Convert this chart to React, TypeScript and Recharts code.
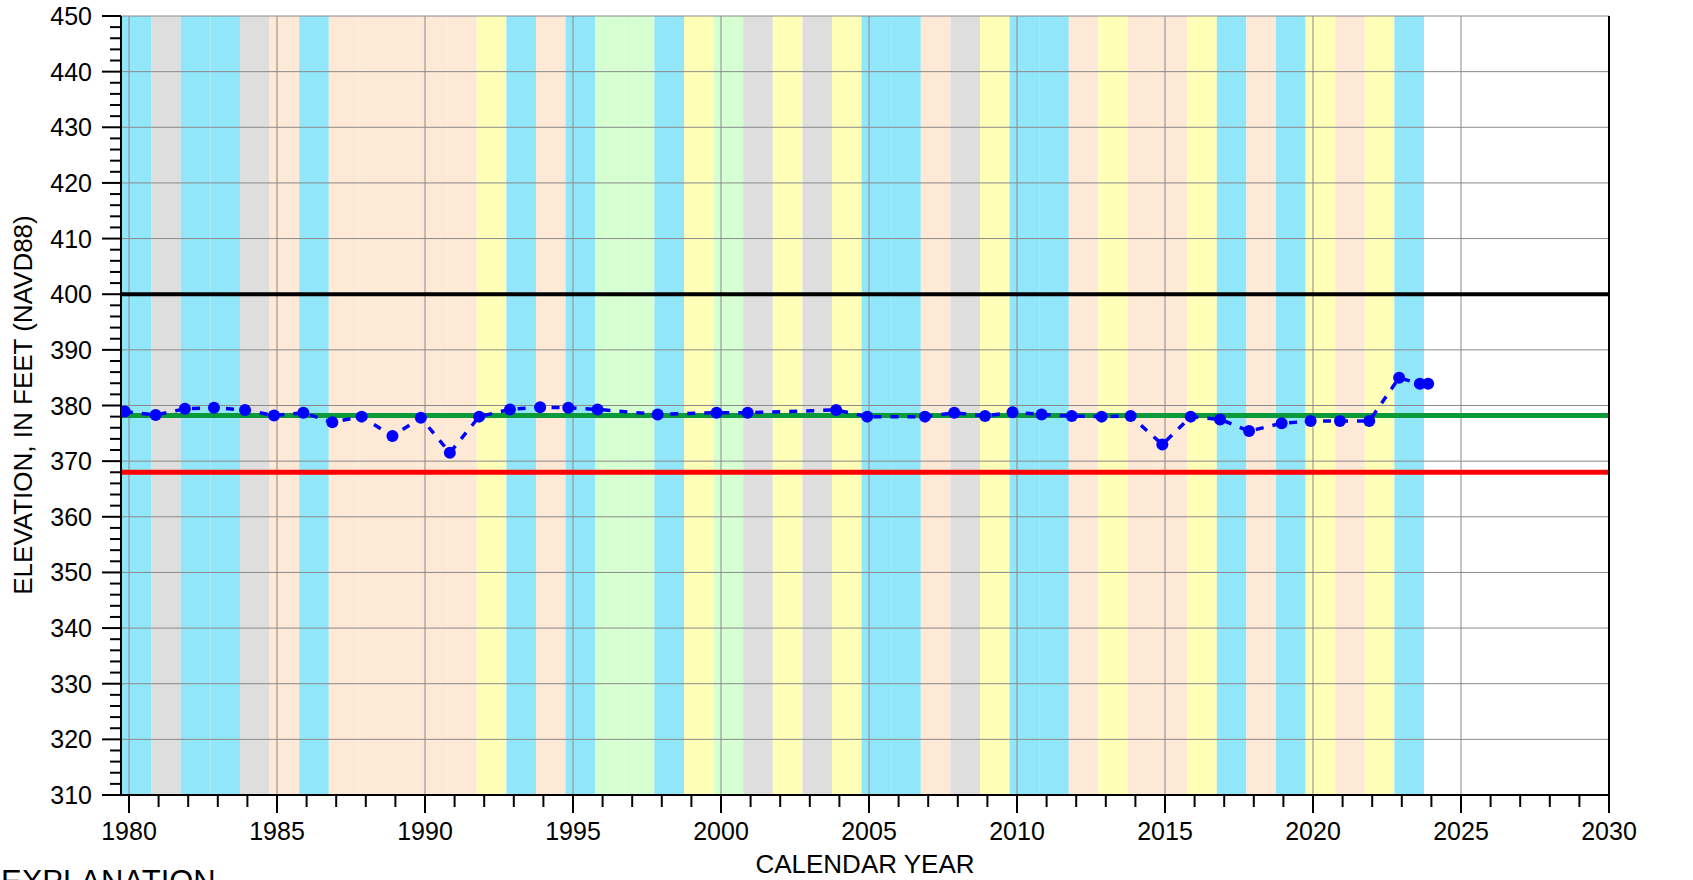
import { ComposedChart, Line, XAxis, YAxis, ReferenceArea, ReferenceLine } from "recharts";

// water years and their type (colour band), WY runs Oct 1 (prev year) to Sep 30
const WATER_YEARS = [
  1980, 1981, 1982, 1983, 1984, 1985, 1986, 1987, 1988, 1989, 1990, 1991,
  1992, 1993, 1994, 1995, 1996, 1997, 1998, 1999, 2000, 2001, 2002, 2003,
  2004, 2005, 2006, 2007, 2008, 2009, 2010, 2011, 2012, 2013, 2014, 2015,
  2016, 2017, 2018, 2019, 2020, 2021, 2022, 2023,
];
const YEAR_TYPES = [
  "W", "C", "W", "W", "C", "D", "W", "D", "D", "D", "D", "D",
  "BN", "W", "D", "W", "AN", "AN", "W", "BN", "AN", "C", "BN", "C",
  "BN", "W", "W", "D", "C", "BN", "W", "W", "D", "BN", "D", "D",
  "BN", "W", "D", "W", "BN", "D", "BN", "W",
];

// measured groundwater elevations
const MEASURED_DATES = [
  1979.86, 1980.9, 1981.89, 1982.87, 1983.92, 1984.9, 1985.89, 1986.87,
  1987.86, 1988.9, 1989.86, 1990.84, 1991.83, 1992.87, 1993.89, 1994.84,
  1995.83, 1997.86, 1999.85, 2000.9, 2003.89, 2004.94, 2006.89, 2007.88,
  2008.92, 2009.85, 2010.83, 2011.85, 2012.86, 2013.84, 2014.91, 2015.87,
  2016.86, 2017.84, 2018.94, 2019.92, 2020.91, 2021.9, 2022.91, 2023.61,
  2023.89,
];
const ELEVATIONS = [
  378.9, 378.3, 379.4, 379.6, 379.2, 378.2, 378.7, 377.0,
  378.0, 374.5, 377.8, 371.5, 378.0, 379.3, 379.7, 379.6,
  379.3, 378.4, 378.7, 378.7, 379.2, 378.0, 378.0, 378.7,
  378.1, 378.8, 378.4, 378.1, 378.0, 378.1, 373.0, 378.0,
  377.5, 375.4, 376.8, 377.2, 377.2, 377.2, 385.0, 383.9,
  383.9,
];

const THRESHOLDS = [
  { value: 400, color: "#000000", width: 4 },
  { value: 378.2, color: "#0a9a3a", width: 5 },
  { value: 368, color: "#ff0000", width: 5 },
];

const X_GRID = [1980, 1985, 1990, 1995, 2000, 2005, 2010, 2015, 2020, 2025];
const Y_GRID = [320, 330, 340, 350, 360, 370, 380, 390, 400, 410, 420, 430, 440, 450];

const TYPE_COLORS: Record<string, string> = {
  W: "#92e6f9",
  AN: "#d6ffd2",
  BN: "#ffffb8",
  D: "#fee8d6",
  C: "#dedede",
};

const range = (a: number, b: number, s: number) => {
  const out: number[] = [];
  for (let v = a; v <= b; v += s) out.push(v);
  return out;
};
const X_TICKS = range(1980, 2030, 1);
const Y_TICKS = range(310, 450, 2);

const FONT = "'Liberation Sans', Arial, sans-serif";

const data = MEASURED_DATES.map((d, i) => ({ date: d, elev: ELEVATIONS[i] }));

function LeftTick(props: any) {
  const { x, y, payload } = props;
  const v = payload.value;
  const major = v % 10 === 0;
  return (
    <g>
      <line x1={x - (major ? 19 : 11)} x2={x} y1={y} y2={y} stroke="#000" strokeWidth={2} />
      {major && (
        <text x={x - 29} y={y} dy="0.36em" textAnchor="end" fontSize={25} fontFamily={FONT} fill="#000">
          {v}
        </text>
      )}
    </g>
  );
}

function RightTick(props: any) {
  const { x, y, payload } = props;
  const v = payload.value;
  const major = v % 10 === 0;
  return (
    <g>
      <line x1={x} x2={x + (major ? 18 : 12)} y1={y} y2={y} stroke="#000" strokeWidth={2} />
      {major && (
        <text x={x + 29} y={y} dy="0.36em" textAnchor="start" fontSize={25} fontFamily={FONT} fill="#000">
          {v}
        </text>
      )}
    </g>
  );
}

function BottomTick(props: any) {
  const { x, y, payload } = props;
  const v = payload.value;
  const major = v % 5 === 0;
  return (
    <g>
      <line x1={x} x2={x} y1={y} y2={y + (major ? 18 : 12)} stroke="#000" strokeWidth={2} />
      {major && (
        <text x={x} y={y + 45} textAnchor="middle" fontSize={25} fontFamily={FONT} fill="#000">
          {v}
        </text>
      )}
    </g>
  );
}

export default function App() {
  return (
    <div style={{ position: "absolute", left: 0, top: 0, width: 1693, height: 880, overflow: "hidden", background: "#fff" }}>
      <ComposedChart
        width={1693}
        height={880}
        data={data}
        margin={{ top: 16, right: 0, bottom: 0, left: 0 }}
      >
        <XAxis
          dataKey="date"
          type="number"
          domain={[1979.73, 2030]}
          allowDataOverflow
          ticks={X_TICKS}
          interval={0}
          height={85}
          tickSize={0}
          tickMargin={0}
          tickLine={false}
          axisLine={{ stroke: "#000", strokeWidth: 2 }}
          tick={BottomTick}
        />
        <YAxis
          yAxisId="l"
          type="number"
          domain={[310, 450]}
          ticks={Y_TICKS}
          interval={0}
          width={121}
          tickSize={0}
          tickMargin={0}
          tickLine={false}
          axisLine={{ stroke: "#000", strokeWidth: 2 }}
          tick={LeftTick}
        />
        <YAxis
          yAxisId="r"
          orientation="right"
          type="number"
          domain={[310, 450]}
          ticks={Y_TICKS}
          interval={0}
          width={84}
          tickSize={0}
          tickMargin={0}
          tickLine={false}
          axisLine={{ stroke: "#000", strokeWidth: 2 }}
          tick={RightTick}
        />
        {WATER_YEARS.map((wy, i) => (
          <ReferenceArea
            key={`wy${wy}`}
            yAxisId="l"
            x1={wy - 0.25}
            x2={wy + 0.75}
            fill={TYPE_COLORS[YEAR_TYPES[i]]}
            fillOpacity={1}
            stroke="none"
            ifOverflow="hidden"
          />
        ))}
        {X_GRID.map((g) => (
          <ReferenceLine key={`gx${g}`} yAxisId="l" x={g} stroke="#8a8a8a" strokeWidth={1} />
        ))}
        {Y_GRID.map((g) => (
          <ReferenceLine key={`gy${g}`} yAxisId="l" y={g} stroke="#8a8a8a" strokeWidth={1} />
        ))}
        {THRESHOLDS.map((t) => (
          <ReferenceLine key={`t${t.value}`} yAxisId="l" y={t.value} stroke={t.color} strokeWidth={t.width} />
        ))}
        <Line
          yAxisId="l"
          dataKey="elev"
          type="linear"
          stroke="#0000ff"
          strokeWidth={3.5}
          strokeDasharray="8 9"
          dot={{ r: 6, fill: "#0000ff", stroke: "#0000ff", strokeWidth: 0 }}
          activeDot={false}
          isAnimationActive={false}
        />
      </ComposedChart>
      <svg
        width={1693}
        height={880}
        style={{ position: "absolute", left: 0, top: 0, pointerEvents: "none" }}
      >
        <text
          x={0}
          y={0}
          transform="translate(32 405) rotate(-90)"
          textAnchor="middle"
          fontSize={26}
          fontFamily={FONT}
          fill="#000"
        >
          ELEVATION, IN FEET (NAVD88)
        </text>
        <text x={865} y={873} textAnchor="middle" fontSize={26} fontFamily={FONT} fill="#000">
          CALENDAR YEAR
        </text>
        <text x={1} y={892} fontSize={31} fontFamily={FONT} fill="#000">
          EXPLANATION
        </text>
      </svg>
    </div>
  );
}
